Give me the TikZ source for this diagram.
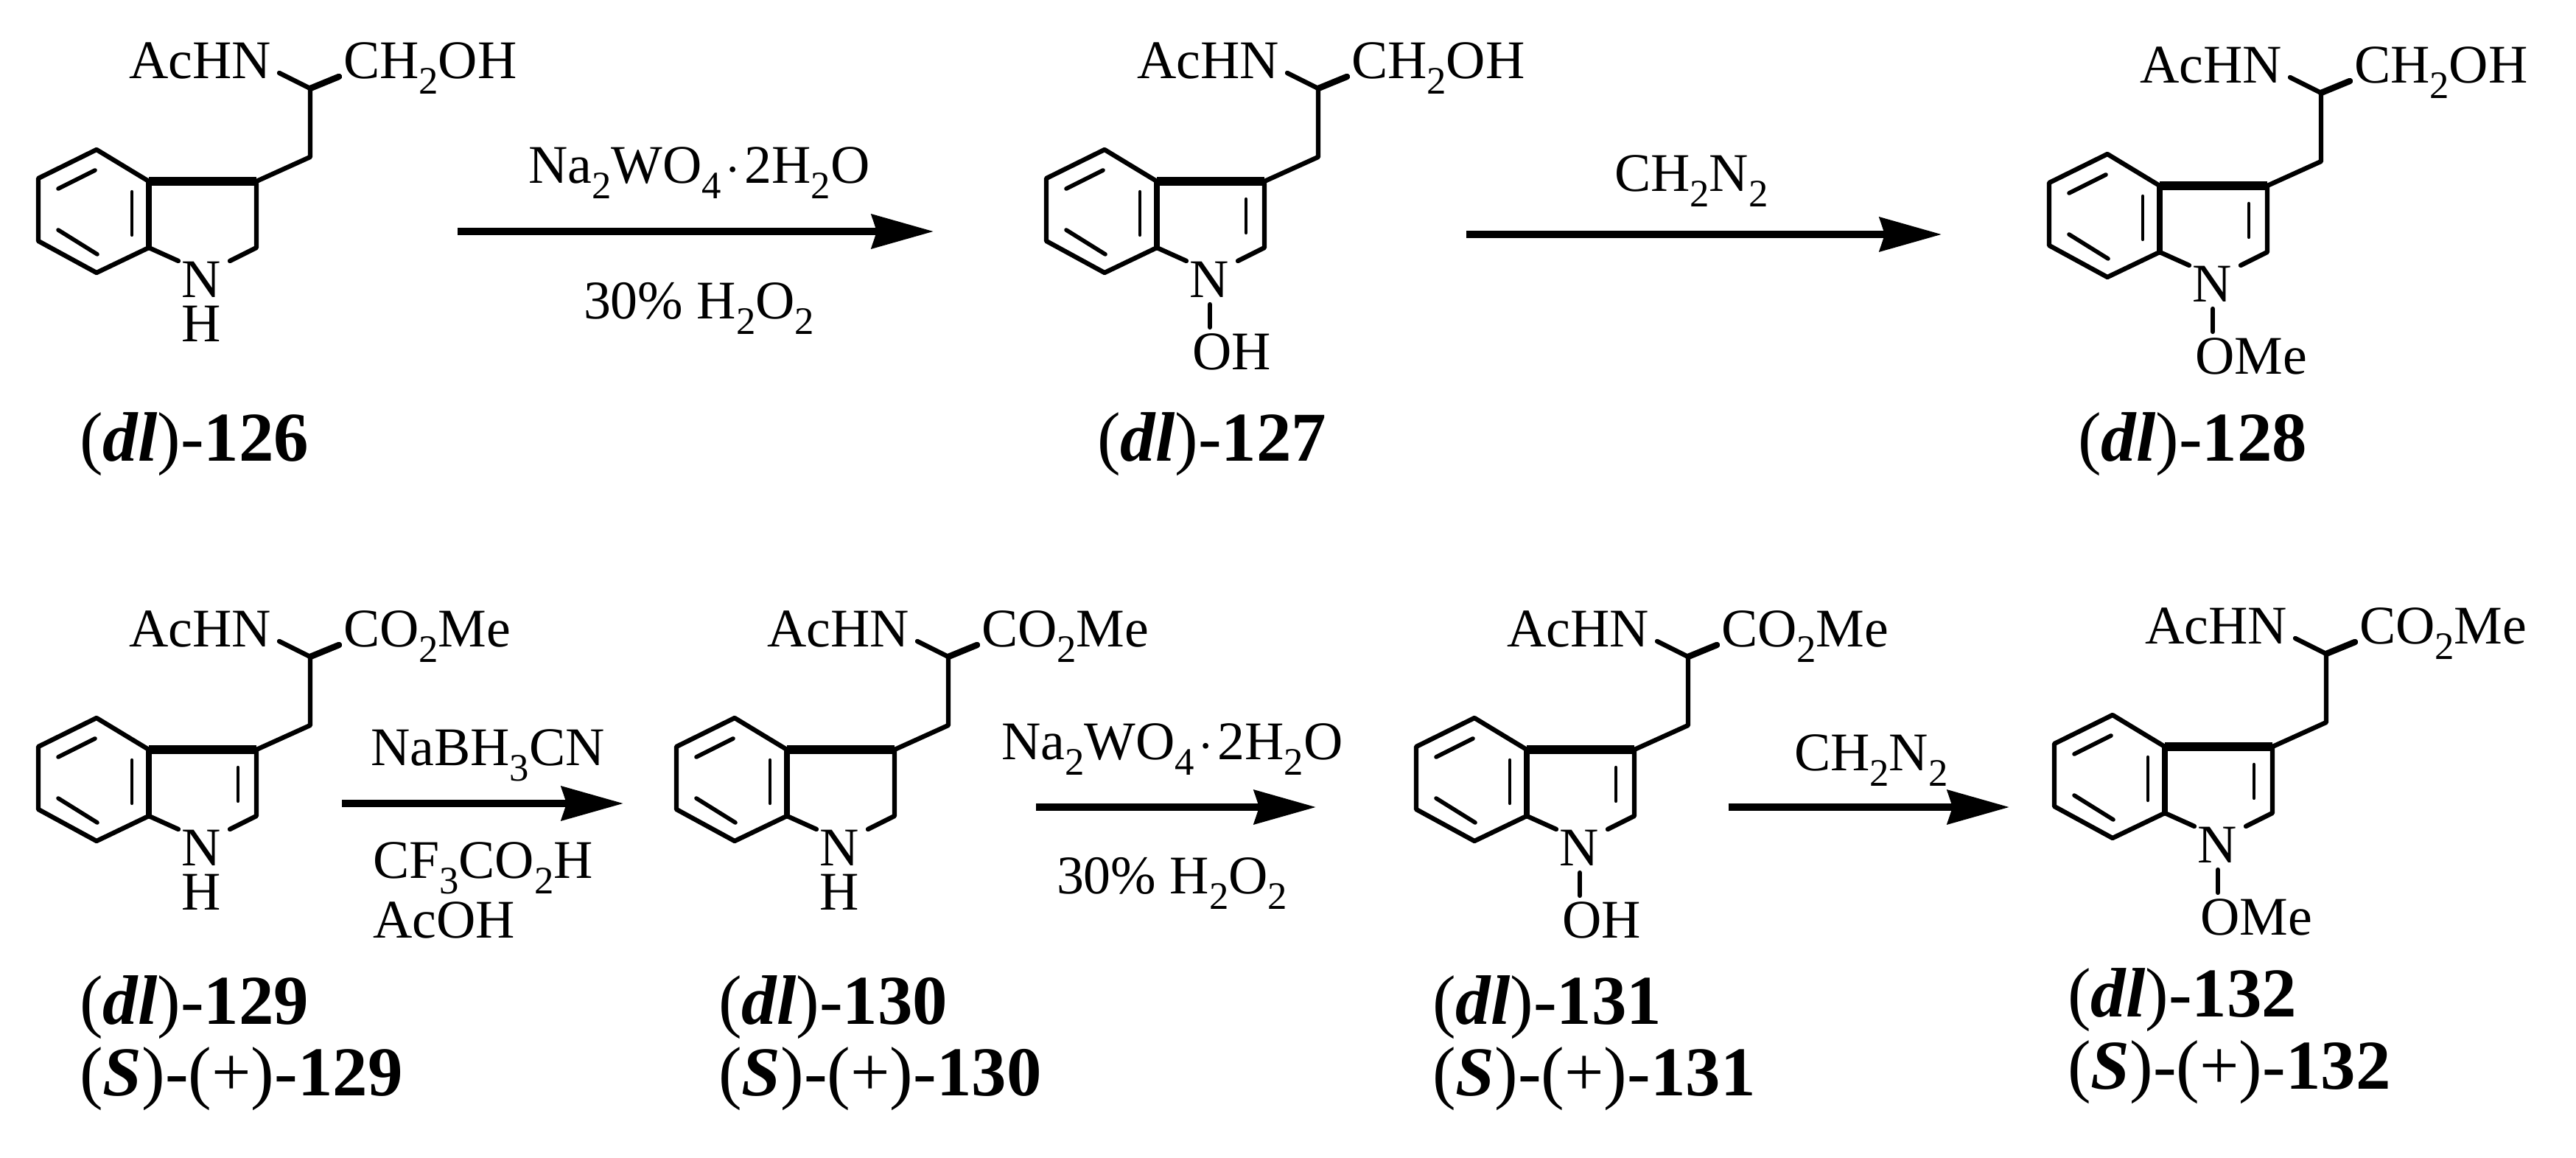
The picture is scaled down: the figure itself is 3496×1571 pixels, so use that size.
\documentclass[tikz,border=0pt]{standalone}
\usepackage{fontspec}
\setmainfont{Liberation Serif}
\usetikzlibrary{arrows.meta}
\newcommand{\sbs}[1]{\raisebox{-0.28em}{\fontsize{15}{15}\selectfont #1}}
\newcommand{\cpdA}[1]{(\textbf{\textit{dl}})-\textbf{#1}}
\newcommand{\cpdB}[1]{(\textbf{\textit{S}})-(+)-\textbf{#1}}
\newcommand{\hydrate}{\kern1.6pt$\cdot$\kern1.6pt}
\tikzset{
  bond/.style={line width=1.8pt,line cap=round,line join=round,black},
  heavybond/.style={line width=3.4pt,line cap=butt,black},
  innerbond/.style={line width=1.2pt,line cap=round,black},
  atomtext/.style={inner sep=0pt,outer sep=0pt,font=\fontsize{21}{21}\selectfont,anchor=base west},
  atomcentre/.style={inner sep=0pt,outer sep=0pt,font=\fontsize{21}{21}\selectfont,anchor=base},
  reagent/.style={inner sep=0pt,outer sep=0pt,font=\fontsize{21}{21}\selectfont,anchor=base west},
  cpdlabel/.style={inner sep=0pt,outer sep=0pt,font=\fontsize{27}{27}\selectfont,anchor=base west},
  reaction/.style={line width=2.6pt,-{Stealth[length=0.84cm,width=0.46cm,inset=0.07cm]},black}
}
% #1 name, #2 dx, #3 dy, #4 1 = C2=C3 double bond, #5 side-chain text, #6 N substituent: 0 H, otherwise text
\newcommand{\indole}[6]{%
\begin{scope}[shift={(#2,#3)}]
  \coordinate (#1-a) at (131,203);
  \coordinate (#1-b) at (52,242);
  \coordinate (#1-c) at (52,327);
  \coordinate (#1-d) at (131,370);
  \coordinate (#1-e) at (202,336);
  \coordinate (#1-f) at (202,246);
  \coordinate (#1-g) at (348,246);
  \coordinate (#1-h) at (348,336);
  \coordinate (#1-i) at (421,213);
  \coordinate (#1-j) at (421,120);
  \coordinate (#1-k) at (379,99);
  \coordinate (#1-l) at (460,104);
  \coordinate (#1-m) at (242,354);
  \coordinate (#1-o) at (312,354);
  \node[atomtext] (#1-achn) at (175,107) {AcHN};
  \node[atomtext] (#1-side) at (466,107) {#5};
  \node[atomcentre] (#1-n) at (273,404) {N};
  \draw[bond] (#1-f) -- (#1-a) -- (#1-b) -- (#1-c) -- (#1-d) -- (#1-e);
  \draw[bond,line width=2.2pt] (#1-e) -- (#1-f);
  \draw[heavybond] (#1-f) -- (#1-g);
  \draw[bond] (#1-g) -- (#1-h) -- (#1-o);
  \draw[bond] (#1-e) -- (#1-m);
  \draw[bond] (#1-g) -- (#1-i) -- (#1-j) -- (#1-k);
  \draw[bond,line width=2.4pt] (#1-j) -- (#1-l);
  \draw[innerbond,line width=1.6pt] (79,256) -- (129,231);
  \draw[innerbond,line width=1.6pt] (79,312) -- (132,345);
  \draw[innerbond] (179,260) -- (179,319);
  \ifnum#4=1 \draw[innerbond] (323,270) -- (323,316); \fi
  \ifx0#6
    \node[atomcentre] (#1-sub) at (273,464) {H};
  \else
    \coordinate (#1-p) at (274,413);
    \coordinate (#1-q) at (274,444);
    \draw[bond] (#1-p) -- (#1-q);
    \node[atomtext] (#1-sub) at (250,502) {#6};
  \fi
\end{scope}}
\begin{document}
\begin{tikzpicture}[x=0.01cm,y=-0.01cm]
\useasboundingbox (0,0) rectangle (3496,1571);
\fill[white] (0,0) rectangle (3496,1571);

\indole{m126}{0}{0}{0}{CH\sbs{2}OH}{0}
\indole{m127}{1368}{0}{1}{CH\sbs{2}OH}{OH}
\indole{m128}{2729}{6}{1}{CH\sbs{2}OH}{OMe}
\indole{m129}{0}{771}{1}{CO\sbs{2}Me}{0}
\indole{m130}{866}{771}{0}{CO\sbs{2}Me}{0}
\indole{m131}{1870}{771}{1}{CO\sbs{2}Me}{OH}
\indole{m132}{2736}{767}{1}{CO\sbs{2}Me}{OMe}

% arrows
\coordinate (a1s) at (621,314); \coordinate (a1e) at (1267,314);
\coordinate (a2s) at (1990,318); \coordinate (a2e) at (2635,318);
\coordinate (a3s) at (464,1090); \coordinate (a3e) at (846,1090);
\coordinate (a4s) at (1406,1095); \coordinate (a4e) at (1786,1095);
\coordinate (a5s) at (2346,1095); \coordinate (a5e) at (2727,1095);
\draw[reaction] (a1s) -- (a1e);
\draw[reaction] (a2s) -- (a2e);
\draw[reaction] (a3s) -- (a3e);
\draw[reaction] (a4s) -- (a4e);
\draw[reaction] (a5s) -- (a5e);

% reagents
\node[reagent] (r1) at (717,249) {Na\sbs{2}WO\sbs{4}\hydrate 2H\sbs{2}O};
\node[reagent] (r2) at (792,433) {30\% H\sbs{2}O\sbs{2}};
\node[reagent] (r3) at (2191,260) {CH\sbs{2}N\sbs{2}};
\node[reagent] (r4) at (503,1039) {NaBH\sbs{3}CN};
\node[reagent] (r5) at (506,1192) {CF\sbs{3}CO\sbs{2}H};
\node[reagent] (r6) at (506,1273) {AcOH};
\node[reagent] (r7) at (1359,1031) {Na\sbs{2}WO\sbs{4}\hydrate 2H\sbs{2}O};
\node[reagent] (r8) at (1434,1213) {30\% H\sbs{2}O\sbs{2}};
\node[reagent] (r9) at (2435,1046) {CH\sbs{2}N\sbs{2}};

% compound labels
\node[cpdlabel] (l126) at (108,626) {\cpdA{126}};
\node[cpdlabel] (l127) at (1489,626) {\cpdA{127}};
\node[cpdlabel] (l128) at (2820,626) {\cpdA{128}};
\node[cpdlabel] (l129) at (108,1390) {\cpdA{129}};
\node[cpdlabel] (l129s) at (108,1487) {\cpdB{129}};
\node[cpdlabel] (l130) at (975,1390) {\cpdA{130}};
\node[cpdlabel] (l130s) at (975,1487) {\cpdB{130}};
\node[cpdlabel] (l131) at (1944,1390) {\cpdA{131}};
\node[cpdlabel] (l131s) at (1944,1487) {\cpdB{131}};
\node[cpdlabel] (l132) at (2806,1380) {\cpdA{132}};
\node[cpdlabel] (l132s) at (2806,1478) {\cpdB{132}};
\end{tikzpicture}
\end{document}
